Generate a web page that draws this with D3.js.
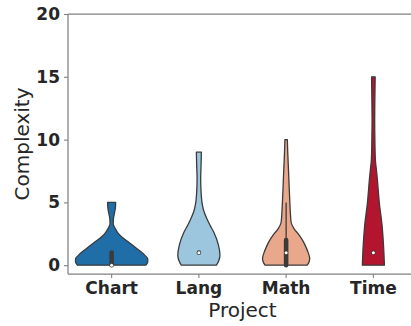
<!DOCTYPE html>
<html><head><meta charset="utf-8">
<script src="https://cdn.jsdelivr.net/npm/d3@7"></script>
<style>body{margin:0;background:#fff}svg{display:block}text{font-family:"DejaVu Sans",sans-serif}</style>
</head><body><svg id="c" width="411" height="326"></svg>
<script>
const projects = ["Chart","Lang","Math","Time"];
const colors = ["#1f6ea8","#9cc6dd","#e9a88b","#b3152f"];
const yTicks = [0,5,10,15,20];
// violin outlines: complexity level and relative density
const chartLevels = [0,0.25,0.5,0.8,1.33,1.86,2.4,2.95,3.3,3.7,4.2,4.6,5.0];
const chartDensity = [34,36,36,33,25,16.5,8,3.3,1.6,1.8,3,3.8,4];
const langLevels = [0,0.4,0.8,1.6,2.6,3.2,3.7,4.3,4.8,5.8,6.9,8.0,9.0];
const langDensity = [17.5,20,21,19.5,15,11,8,5,3.5,2.2,1.8,2.2,2.5];
const mathLevels = [0,0.3,0.55,1.0,1.4,1.9,2.4,2.9,3.4,4.2,5.0,6.3,7.7,9,10];
const mathDensity = [21,23,23.5,22,20,17,13,8,5,4.2,3.7,3,2.3,1.6,1.2];
const timeLevels = [0,1.75,3.3,4.9,5.8,6.8,7.6,8.4,10,11.6,13.3,15];
const timeDensity = [11,10,8.5,6,5,4,3,2,1.5,1.3,1.5,1.8];
// box summaries
const q1 = [0,1,0,1];
const q3 = [1,1,2,1];
const medians = [0,1,1,1];
const whiskerLo = [0,1,0,1];
const whiskerHi = [1,1,5,1];

const levels = [chartLevels,langLevels,mathLevels,timeLevels];
const dens = [chartDensity,langDensity,mathDensity,timeDensity];

const svg = d3.select("#c");
const m = {l:68, r:-6, t:14, b:52};
const W = 411, H = 326;
const x = d3.scaleBand().domain(projects).range([m.l, W - m.r]).padding(0);
const y = d3.scaleLinear().domain([-0.7, 20]).range([H - m.b, m.t]);
const wScale = d3.scaleLinear().domain([0, 40]).range([0, x.bandwidth()*0.46]);
const spine = "#808080", ink = "#262626", dark = "#3b3b3b";

// spines
svg.append("line").attr("x1",m.l).attr("x2",W - m.r).attr("y1",m.t).attr("y2",m.t).attr("stroke",spine).attr("stroke-width",1.25);
svg.append("line").attr("x1",m.l).attr("x2",W - m.r).attr("y1",H-m.b).attr("y2",H-m.b).attr("stroke",spine).attr("stroke-width",1.25);
svg.append("line").attr("x1",m.l).attr("x2",m.l).attr("y1",m.t).attr("y2",H-m.b).attr("stroke",spine).attr("stroke-width",1.25);

// axes
const yAx = svg.append("g").attr("transform",`translate(${m.l},0)`)
  .call(d3.axisLeft(y).tickValues(yTicks).tickSize(4).tickPadding(4));
const xAx = svg.append("g").attr("transform",`translate(0,${H-m.b})`)
  .call(d3.axisBottom(x).tickSize(4).tickPadding(4));
[yAx,xAx].forEach(g=>{
  g.select(".domain").remove();
  g.selectAll(".tick line").attr("stroke",spine).attr("stroke-width",1.1);
  g.selectAll("text").attr("fill",ink).style("font-size","17px").style("font-weight","bold").style("font-family","DejaVu Sans");
});

// violins
projects.forEach((p,i)=>{
  const cx = x(p) + x.bandwidth()/2;
  const pts = levels[i].map((v,j)=>({v, d:dens[i][j]}));
  const area = d3.area().curve(d3.curveMonotoneY)
    .y(d=>y(d.v)).x0(d=>cx - wScale(d.d)).x1(d=>cx + wScale(d.d));
  svg.append("path").attr("d",area(pts)).attr("fill",colors[i])
    .attr("stroke",dark).attr("stroke-width",1.3).attr("stroke-linejoin","round");
  svg.append("line").attr("x1",cx).attr("x2",cx).attr("y1",y(whiskerLo[i])).attr("y2",y(whiskerHi[i]))
    .attr("stroke",dark).attr("stroke-width",1.3);
  svg.append("line").attr("x1",cx).attr("x2",cx).attr("y1",y(q1[i])).attr("y2",y(q3[i]))
    .attr("stroke",dark).attr("stroke-width",4.6).attr("stroke-linecap","round");
  svg.append("circle").attr("cx",cx).attr("cy",y(medians[i])).attr("r",1.5).attr("fill","#fff");
});

// labels
svg.append("text").attr("x",(m.l + W - m.r)/2).attr("y",317).attr("text-anchor","middle")
  .attr("fill",ink).style("font-size","20px").text("Project");
svg.append("text").attr("transform",`translate(29,${(m.t + H - m.b)/2}) rotate(-90)`).attr("text-anchor","middle")
  .attr("fill",ink).style("font-size","20px").text("Complexity");
</script></body></html>
